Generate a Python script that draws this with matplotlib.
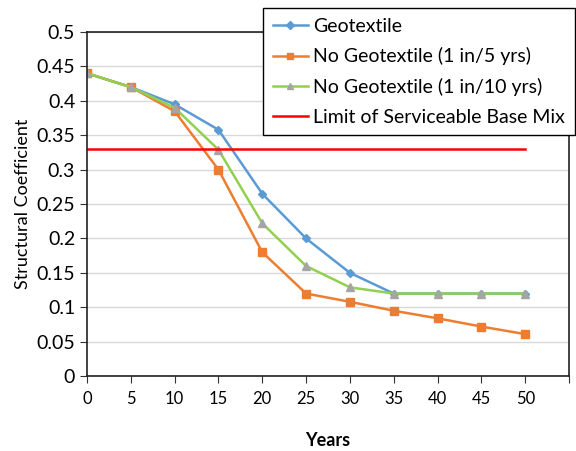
import matplotlib.pyplot as plt

plt.rcParams['font.family'] = ['Lato', 'DejaVu Sans']

# data
years = [0, 5, 10, 15, 20, 25, 30, 35, 40, 45, 50]
geotextile = [0.44, 0.42, 0.395, 0.358, 0.265, 0.20, 0.15, 0.12, 0.12, 0.12, 0.12]
no_geo_5 = [0.44, 0.42, 0.385, 0.30, 0.18, 0.12, 0.108, 0.095, 0.084, 0.072, 0.061]
no_geo_10 = [0.44, 0.42, 0.39, 0.329, 0.222, 0.16, 0.129, 0.12, 0.12, 0.12, 0.12]
limit_x = [0, 50]
limit_y = [0.33, 0.33]

fig = plt.figure(figsize=(5.76, 4.51), dpi=100)
ax = fig.add_axes([0.151, 0.166, 0.837, 0.763])

# horizontal grid
ax.set_axisbelow(True)
ax.grid(axis='y', color='#d9d9d9', linewidth=1)

ax.plot(years, geotextile, color='#5B9BD5', lw=1.8, marker='D', ms=4.5,
        label='Geotextile')
ax.plot(years, no_geo_5, color='#ED7D31', lw=1.8, marker='s', ms=6,
        label='No Geotextile (1 in/5 yrs)')
ax.plot(years, no_geo_10, color='#92D050', lw=1.8, marker='^', ms=6,
        mfc='#A5A5A5', mec='#A5A5A5', label='No Geotextile (1 in/10 yrs)')
ax.plot(limit_x, limit_y, color='#FF0000', lw=1.8,
        label='Limit of Serviceable Base Mix')

ax.set_xlim(0, 55)
ax.set_ylim(0, 0.5)
ax.set_xticks(range(0, 60, 5))
ax.set_xticklabels([str(v) for v in range(0, 55, 5)] + [''])
ax.set_yticks([i * 0.05 for i in range(11)])
ax.set_yticklabels(['0', '0.05', '0.1', '0.15', '0.2', '0.25', '0.3',
                    '0.35', '0.4', '0.45', '0.5'])
ax.tick_params(axis='y', labelsize=14, length=5, color='#333333')
ax.tick_params(axis='x', labelsize=12, length=5, color='#333333', pad=6)

for s in ax.spines.values():
    s.set_color('#222222')
    s.set_linewidth(1.2)

ax.set_xlabel('Years', fontsize=13, fontweight='bold', labelpad=18)
ax.set_ylabel('Structural Coefficient', fontsize=13, labelpad=4)

leg = ax.legend(loc='upper right', bbox_to_anchor=(575 / 576, 1 - 8 / 451),
                bbox_transform=fig.transFigure, fontsize=14, frameon=True,
                fancybox=False, edgecolor='black', framealpha=1,
                handlelength=1.8, handletextpad=0.3, borderpad=0.5,
                labelspacing=0.65, markerscale=0.8, borderaxespad=0)
leg.get_frame().set_linewidth(1)

fig.savefig('out.png', dpi=100)
